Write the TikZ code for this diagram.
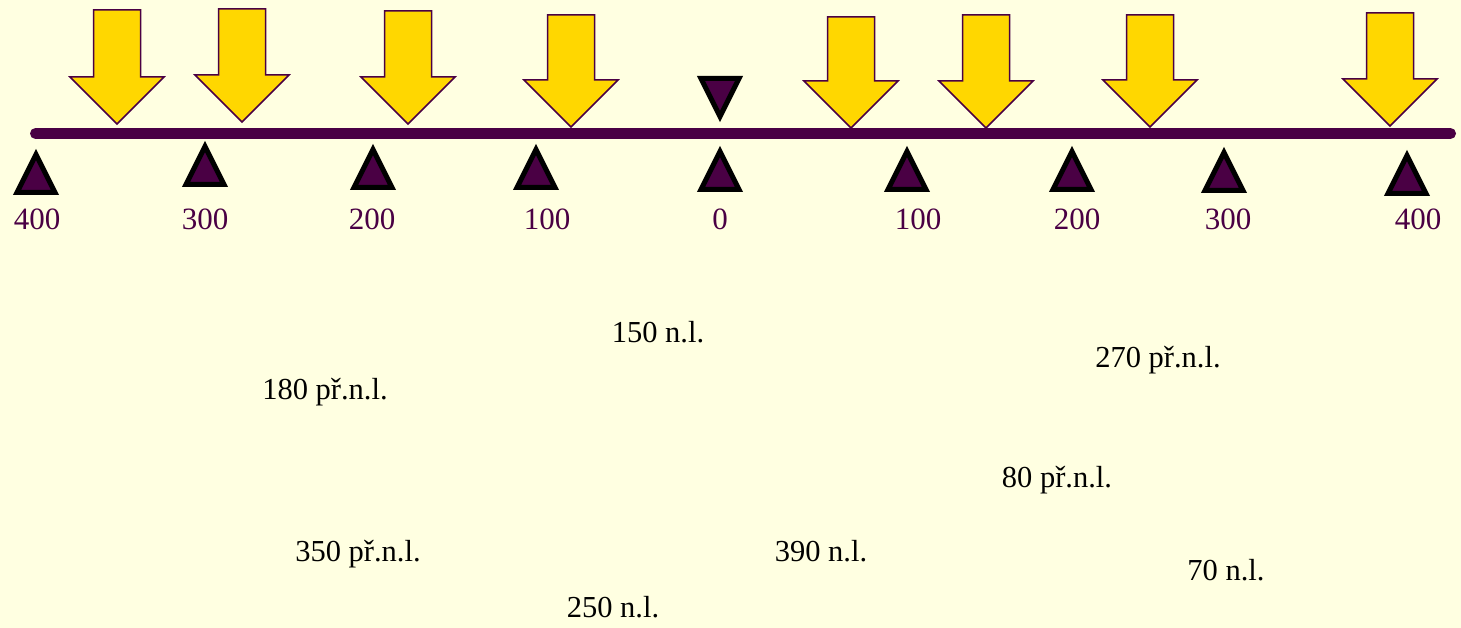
\documentclass[tikz,border=0pt]{standalone}
\usepackage{fontspec}
\setmainfont{Liberation Serif}
\definecolor{bgc}{HTML}{FFFFE1}
\definecolor{plum}{HTML}{4A0044}
\definecolor{gold}{HTML}{FFD700}
\begin{document}
\begin{tikzpicture}[x=1pt,y=-1pt,
  yarrow/.style={fill=gold,draw=plum,line width=1.5pt,line join=miter},
  tri/.style={fill=plum,draw=black,line width=5pt,line join=miter},
  yearlbl/.style={text=plum,font=\fontsize{31}{36}\selectfont,anchor=base,inner sep=0pt},
  datelbl/.style={text=black,font=\fontsize{30.5}{36}\selectfont,anchor=base,inner sep=0pt}]
\fill[bgc] (0,0) rectangle (1461,628);
\useasboundingbox (0,0) rectangle (1461,628);
% yellow arrows: centre x, top y, tip y
\foreach \cx/\ty/\tp in {117/10/124,242/9/122,408/11/124,571/15/127,851/17/128,986/15/128,1150/15/127,1390/13/126}{
  \draw[yarrow] (\cx-23.5,\ty) -- (\cx+23.5,\ty) -- (\cx+23.5,\tp-47) -- (\cx+47,\tp-47)
     -- (\cx,\tp) -- (\cx-47,\tp-47) -- (\cx-23.5,\tp-47) -- cycle;
}
% time axis
\draw[plum,line width=11pt,line cap=round] (35.5,133.5) -- (1450.5,133.5);
% up triangles: centre x, outer base y
\foreach \cx/\by in {36/195,205/187,373/190,536/190,720/192,907/192,1072/192,1224/193,1407/196}{
  \draw[tri] (\cx-19,\by-2.5) -- (\cx+19,\by-2.5) -- (\cx,\by-40.5) -- cycle;
}
% down triangle at 0
\draw[tri] (720-19,78.5) -- (720+19,78.5) -- (720,116.5) -- cycle;
% axis labels
\node[yearlbl] (l400a) at (37,230) {400};
\node[yearlbl] (l300a) at (205,230) {300};
\node[yearlbl] (l200a) at (372,230) {200};
\node[yearlbl] (l100a) at (547,230) {100};
\node[yearlbl] (l0) at (720,230) {0};
\node[yearlbl] (l100b) at (918,230) {100};
\node[yearlbl] (l200b) at (1077,230) {200};
\node[yearlbl] (l300b) at (1228,230) {300};
\node[yearlbl] (l400b) at (1418,230) {400};
% dates
\node[datelbl] (d150) at (658,342) {150 n.l.};
\node[datelbl] (d180) at (325,399) {180 př.n.l.};
\node[datelbl] (d270) at (1158,367) {270 př.n.l.};
\node[datelbl] (d80) at (1057,487) {80 př.n.l.};
\node[datelbl] (d350) at (358,561) {350 př.n.l.};
\node[datelbl] (d390) at (821,561) {390 n.l.};
\node[datelbl] (d70) at (1226,580) {70 n.l.};
\node[datelbl] (d250) at (613,617) {250 n.l.};
\end{tikzpicture}
\end{document}
